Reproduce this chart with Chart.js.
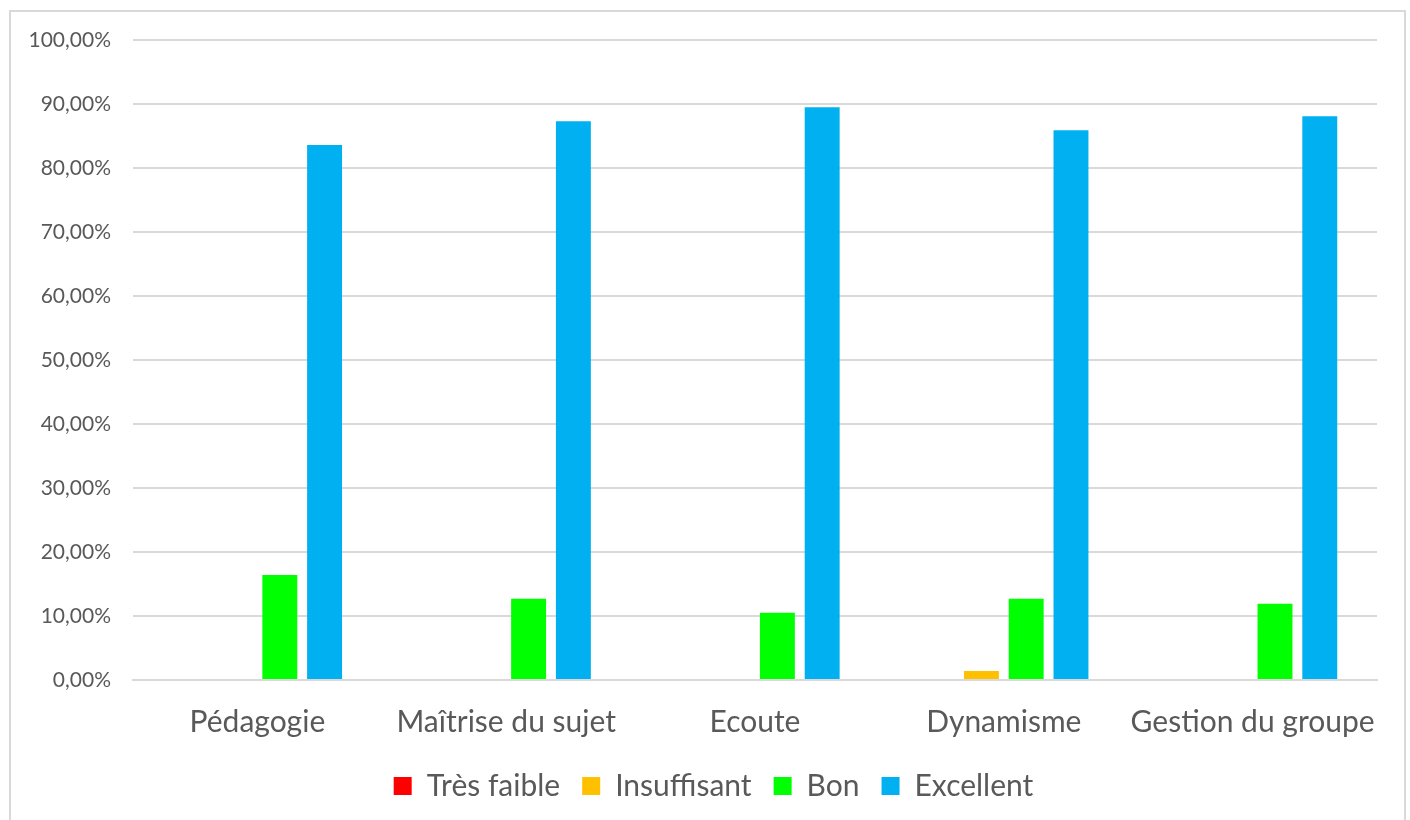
<!DOCTYPE html>
<html>
<head>
<meta charset="utf-8">
<script src="https://cdn.jsdelivr.net/npm/chart.js@4.4.1/dist/chart.umd.min.js"></script>
<style>
  html, body { margin: 0; padding: 0; background: #fff; }
  #wrap { width: 1410px; height: 820px; position: relative; }
</style>
</head>
<body>
<div id="wrap"><canvas id="chart" width="1410" height="820"></canvas></div>
<script>
const categories = ["Pédagogie", "Maîtrise du sujet", "Ecoute", "Dynamisme", "Gestion du groupe"];
const tresFaible = [0, 0, 0, 0, 0];
const insuffisant = [0, 0, 0, 1.4, 0];
const bon = [16.4, 12.7, 10.5, 12.7, 11.9];
const excellent = [83.6, 87.3, 89.5, 85.9, 88.1];
const yTicks = [0, 10, 20, 30, 40, 50, 60, 70, 80, 90, 100];

const FONT = "Lato, 'Open Sans', sans-serif";
const TEXT = "#595959";

// grey frame round the chart, like the Excel chart area
const frame = {
  id: "frame",
  beforeDraw(chart) {
    const c = chart.ctx;
    c.save();
    c.strokeStyle = "#d9d9d9";
    c.lineWidth = 2;
    c.strokeRect(10, 11, 1395, 830);
    c.restore();
  }
};

// Excel centres the legend under the plot area, not the whole canvas
const legendShift = {
  id: "legendShift",
  afterLayout(chart) {
    if (chart.legend) {
      chart.legend.left += 15;
      chart.legend.right += 15;
    }
  }
};

function ds(label, data, color) {
  return {
    label: label,
    data: data,
    backgroundColor: color,
    borderWidth: 0,
    categoryPercentage: 0.72,
    barPercentage: 0.78
  };
}

const ctx = document.getElementById("chart").getContext("2d");
new Chart(ctx, {
  type: "bar",
  data: {
    labels: categories,
    datasets: [
      ds("Très faible", tresFaible, "#ff0000"),
      ds("Insuffisant", insuffisant, "#ffc000"),
      ds("Bon", bon, "#00ff00"),
      ds("Excellent", excellent, "#00b0f0")
    ]
  },
  options: {
    responsive: false,
    animation: false,
    layout: { padding: { left: 20, right: 33, top: 40, bottom: 9 } },
    plugins: {
      legend: {
        position: "bottom",
        labels: {
          boxWidth: 18,
          boxHeight: 18,
          padding: 22,
          color: TEXT,
          font: { family: FONT, size: 30 }
        }
      },
      tooltip: { enabled: false }
    },
    scales: {
      x: {
        afterFit(scale) { scale.height -= 7; },
        grid: { display: false },
        border: { color: "#d9d9d9", width: 2 },
        ticks: {
          color: TEXT,
          padding: 16,
          maxRotation: 0,
          font: { family: FONT, size: 30 }
        }
      },
      y: {
        min: 0,
        max: 100,
        afterBuildTicks(scale) {
          scale.ticks = yTicks.map(v => ({ value: v }));
        },
        afterFit(scale) { scale.width = 113; },
        grid: { color: "#d9d9d9", lineWidth: 2, drawTicks: false },
        border: { display: false },
        ticks: {
          color: TEXT,
          padding: 22,
          font: { family: FONT, size: 21 },
          callback: v => v.toFixed(2).replace(".", ",") + "%"
        }
      }
    }
  },
  plugins: [frame, legendShift]
});
</script>
</body>
</html>
